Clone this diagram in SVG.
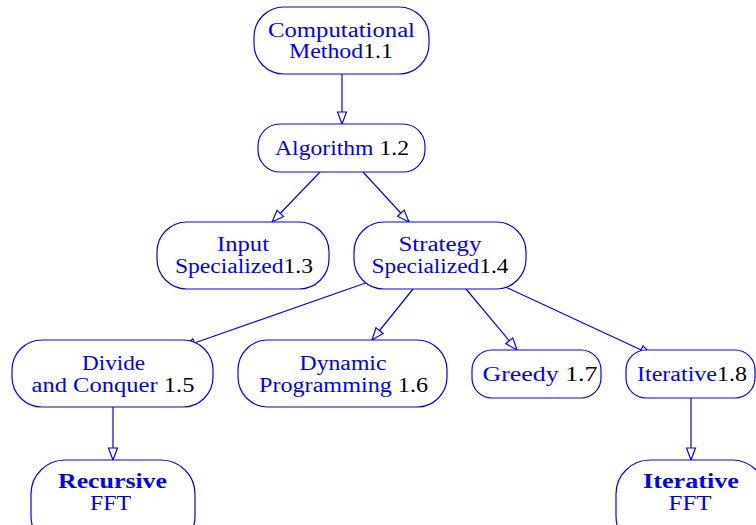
<svg xmlns="http://www.w3.org/2000/svg" width="756" height="525" viewBox="0 0 756 525">
<style>
.box{fill:#fff;stroke:#0000ff;stroke-width:1.2}
.t{font-family:"Liberation Serif","DejaVu Serif",serif;font-size:20px;fill:#0000ff;text-anchor:middle}
.n{fill:#000}
.b{font-weight:bold}
.e{stroke:#0000ff;stroke-width:1.2;fill:none;marker-end:url(#ah)}
</style>
<defs>
<marker id="ah" markerUnits="userSpaceOnUse" markerWidth="14" markerHeight="12" refX="13" refY="5" orient="auto" viewBox="0 0 14 10">
<path d="M1,0.5 L13,5 L1,9.5 z" fill="#fff" stroke="#0000ff" stroke-width="1.2"/>
</marker>
</defs>
<g id="edges">
<line class="e" x1="342" y1="74" x2="342" y2="124"/>
<line class="e" x1="320" y1="172" x2="272" y2="222"/>
<line class="e" x1="363" y1="172" x2="409" y2="222"/>
<line class="e" x1="377" y1="279" x2="183" y2="347"/>
<line class="e" x1="413" y1="289" x2="372" y2="340"/>
<line class="e" x1="466" y1="289" x2="517" y2="350"/>
<line class="e" x1="497" y1="283" x2="652" y2="355"/>
<line class="e" x1="113" y1="407" x2="113" y2="460"/>
<line class="e" x1="691" y1="398" x2="691" y2="460"/>
</g>
<g id="n11"><rect class="box" x="254" y="7" width="175" height="67" rx="30"/>
<text class="t" x="341.5" y="37" textLength="147" lengthAdjust="spacingAndGlyphs">Computational</text>
<text class="t" x="341" y="58" textLength="104" lengthAdjust="spacingAndGlyphs">Method<tspan class="n">1.1</tspan></text></g>
<g id="n12"><rect class="box" x="258" y="124" width="167" height="48" rx="22"/>
<text class="t" x="342" y="154.5" textLength="134" lengthAdjust="spacingAndGlyphs">Algorithm <tspan class="n">1.2</tspan></text></g>
<g id="n13"><rect class="box" x="157" y="222" width="172" height="67" rx="30"/>
<text class="t" x="243" y="251" textLength="52" lengthAdjust="spacingAndGlyphs">Input</text>
<text class="t" x="244" y="273" textLength="138" lengthAdjust="spacingAndGlyphs">Specialized<tspan class="n">1.3</tspan></text></g>
<g id="n14"><rect class="box" x="354" y="222" width="172" height="67" rx="30"/>
<text class="t" x="440" y="251" textLength="83" lengthAdjust="spacingAndGlyphs">Strategy</text>
<text class="t" x="440" y="273" textLength="137" lengthAdjust="spacingAndGlyphs">Specialized<tspan class="n">1.4</tspan></text></g>
<g id="n15"><rect class="box" x="12" y="340" width="201" height="67" rx="30"/>
<text class="t" x="113.5" y="370" textLength="63" lengthAdjust="spacingAndGlyphs">Divide</text>
<text class="t" x="113" y="391.5" textLength="163" lengthAdjust="spacingAndGlyphs">and Conquer <tspan class="n">1.5</tspan></text></g>
<g id="n16"><rect class="box" x="238" y="340" width="209" height="67" rx="30"/>
<text class="t" x="343" y="370" textLength="87" lengthAdjust="spacingAndGlyphs">Dynamic</text>
<text class="t" x="343.5" y="391.5" textLength="169" lengthAdjust="spacingAndGlyphs">Programming <tspan class="n">1.6</tspan></text></g>
<g id="n17"><rect class="box" x="472" y="350" width="129" height="48" rx="20"/>
<text class="t" x="540" y="381" textLength="115" lengthAdjust="spacingAndGlyphs">Greedy <tspan class="n">1.7</tspan></text></g>
<g id="n18"><rect class="box" x="626" y="350" width="129" height="48" rx="20"/>
<text class="t" x="692" y="381" textLength="110" lengthAdjust="spacingAndGlyphs">Iterative<tspan class="n">1.8</tspan></text></g>
<g id="nrec"><rect class="box" x="31" y="460" width="164" height="90" rx="34"/>
<text class="t b" x="112.5" y="488" textLength="109" lengthAdjust="spacingAndGlyphs">Recursive</text>
<text class="t" x="110.5" y="509.5" textLength="41" lengthAdjust="spacingAndGlyphs">FFT</text></g>
<g id="nit"><rect class="box" x="616" y="460" width="150" height="90" rx="34"/>
<text class="t b" x="691" y="488" textLength="96" lengthAdjust="spacingAndGlyphs">Iterative</text>
<text class="t" x="690" y="509.5" textLength="43" lengthAdjust="spacingAndGlyphs">FFT</text></g>
</svg>
